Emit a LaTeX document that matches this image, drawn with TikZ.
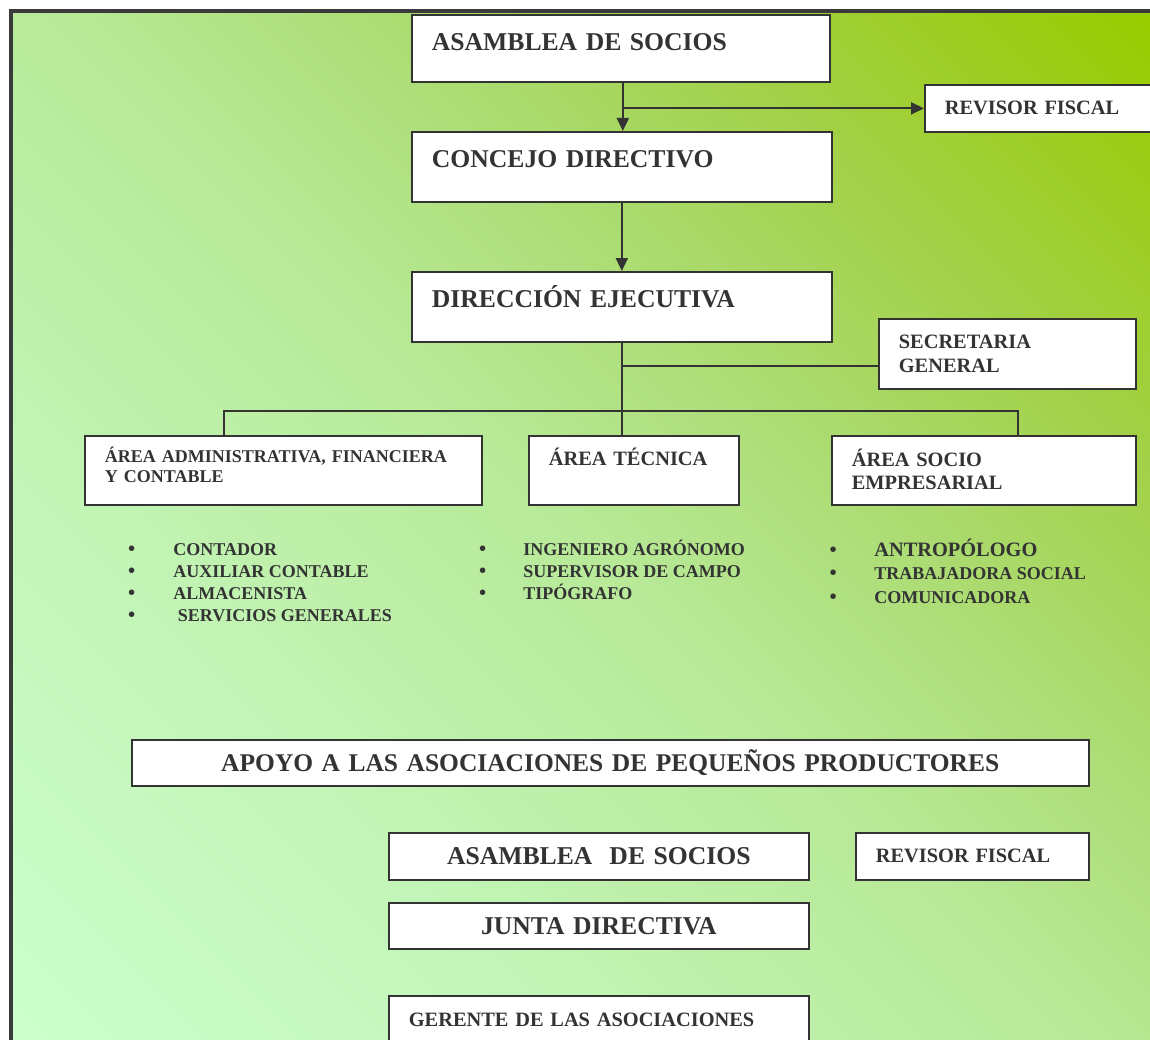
\documentclass[tikz,border=0pt]{standalone}
\usepackage{fontspec}
\setmainfont{Liberation Serif}
\usepackage{tikz}
\usetikzlibrary{arrows.meta}
\definecolor{framegray}{HTML}{3A3A3C}
\definecolor{ink}{HTML}{333333}
\definecolor{leaf}{HTML}{99CC00}
\definecolor{lime}{HTML}{A2D046}
\definecolor{fern}{HTML}{ABDB70}
\definecolor{sage}{HTML}{B7E997}
\definecolor{pale}{HTML}{C3F5B8}
\definecolor{mint}{HTML}{CCFFCC}
\pgfdeclareverticalshading{meadow}{100bp}{color(0bp)=(mint); color(15bp)=(mint); color(32.5bp)=(pale); color(50bp)=(sage); color(61bp)=(fern); color(71bp)=(lime); color(85bp)=(leaf); color(100bp)=(leaf)}
\newcommand{\bigtxt}{\fontsize{14.6}{17}\selectfont\bfseries}
\newcommand{\midtxt}{\fontsize{11.6}{13.4}\selectfont\bfseries}
\newcommand{\smalltxt}{\fontsize{10.25}{11.4}\selectfont\bfseries}
\tikzstyle{block} = [rectangle, draw=ink, line width=1pt, fill=white, anchor=north west, inner xsep=0.4cm, align=left, text=ink]
\tikzstyle{line} = [draw=ink, line width=1.1pt]
\tikzstyle{arrow} = [line, -{Triangle[length=0.26cm, width=0.24cm]}]
\tikzstyle{item} = [anchor=base west, inner sep=0, text=ink, font=\smalltxt]

\begin{document}
\begin{tikzpicture}[x=0.02cm, y=-0.02cm]
\useasboundingbox (0, 0) rectangle (1150, 1040);
\begin{scope}
\clip (0, 0) rectangle (1150, 1040);
%% background and frame
\shade[shading=meadow, shading angle=-45] (11, 11) rectangle (1150, 1040);
\draw[framegray, line width=2.8pt] (11, 11) rectangle (1170, 1060);

%% upper chart
\node [block, font=\bigtxt, text width=7.56cm, minimum height=1.34cm, text height=0.34cm, text depth=0.24cm] at (411, 14) (asamblea) {ASAMBLEA DE SOCIOS};
\node [block, font=\midtxt, text width=4cm, minimum height=0.94cm] at (924, 84) (revisor) {REVISOR FISCAL};
\node [block, font=\bigtxt, text width=7.6cm, minimum height=1.4cm, text height=0.34cm, text depth=0.3cm] at (411, 131) (concejo) {CONCEJO DIRECTIVO};
\node [block, font=\bigtxt, text width=7.6cm, minimum height=1.4cm, text height=0.34cm, text depth=0.3cm] at (411, 271) (direccion) {DIRECCIÓN EJECUTIVA};
\node [block, font=\midtxt, text width=4.34cm, minimum height=1.4cm] at (878, 318) (secretaria) {SECRETARIA\\GENERAL};

\node [block, font=\smalltxt, text width=7.14cm, minimum height=1.38cm, text height=0.32cm, text depth=0.62cm] at (84, 435) (admin) {ÁREA ADMINISTRATIVA, FINANCIERA\\Y CONTABLE};
\node [block, font=\midtxt, text width=3.4cm, minimum height=1.38cm, text height=0.27cm, text depth=0.45cm] at (528, 435) (tecnica) {ÁREA TÉCNICA};
\node [block, font=\midtxt, text width=5.28cm, minimum height=1.38cm, text height=0.3cm, text depth=0.46cm] at (831, 435) (socio) {ÁREA SOCIO\\EMPRESARIAL};

\path [arrow] ([xshift=0.04cm]asamblea.south) to ([xshift=0.04cm]asamblea.south |- concejo.north);
\path [arrow] ([xshift=0.04cm]asamblea.south |- revisor.west) to (revisor.west);
\path [arrow] (concejo.south) to (concejo.south |- direccion.north);
\path [line] (direccion.south) to (direccion.south |- tecnica.north);

\coordinate (secjoin) at ([yshift=-0.24cm]secretaria.west);
\path [line] (secjoin -| direccion.south) to (secjoin);

\coordinate (busL) at (224, 411);
\coordinate (busR) at (1018, 411);
\path [line] (busL |- admin.north) -- (busL) -- (busR) -- (busR |- socio.north);

%% staff under each area
\foreach \y/\txt [count=\i] in {556/CONTADOR, 578/AUXILIAR CONTABLE, 600/ALMACENISTA, 622/\ SERVICIOS GENERALES}
  \node [item] at (173, \y) (adm\i) {\llap{{\midtxt\textbullet}\hspace{0.76cm}}\txt};
\foreach \y/\txt [count=\i] in {556/INGENIERO AGRÓNOMO, 578/SUPERVISOR DE CAMPO, 600/TIPÓGRAFO}
  \node [item] at (523, \y) (tec\i) {\llap{{\midtxt\textbullet}\hspace{0.74cm}}\txt};
\foreach \y/\txt [count=\i] in {557/{\midtxt ANTROPÓLOGO}, 580/TRABAJADORA SOCIAL, 603/COMUNICADORA}
  \node [item] at (874, \y) (soc\i) {\llap{{\midtxt\textbullet}\hspace{0.75cm}}\txt};

%% lower chart
\node [block, align=center, font=\fontsize{14.5}{17}\selectfont\bfseries, text width=18.34cm, minimum height=0.92cm] at (131, 739) (apoyo) {APOYO A LAS ASOCIACIONES DE PEQUEÑOS PRODUCTORES};
\node [block, align=center, font=\bigtxt, text width=7.6cm, minimum height=0.94cm] at (388, 832) (asamblea2) {ASAMBLEA\ \ DE SOCIOS};
\node [block, font=\midtxt, text width=3.86cm, minimum height=0.94cm] at (855, 832) (revisor2) {REVISOR FISCAL};
\node [block, align=center, font=\bigtxt, text width=7.6cm, minimum height=0.92cm] at (388, 902) (junta) {JUNTA DIRECTIVA};
\node [block, font=\midtxt, text width=7.6cm, minimum height=0.96cm] at (388, 995) (gerente) {GERENTE DE LAS ASOCIACIONES};
\end{scope}
\end{tikzpicture}
\end{document}
